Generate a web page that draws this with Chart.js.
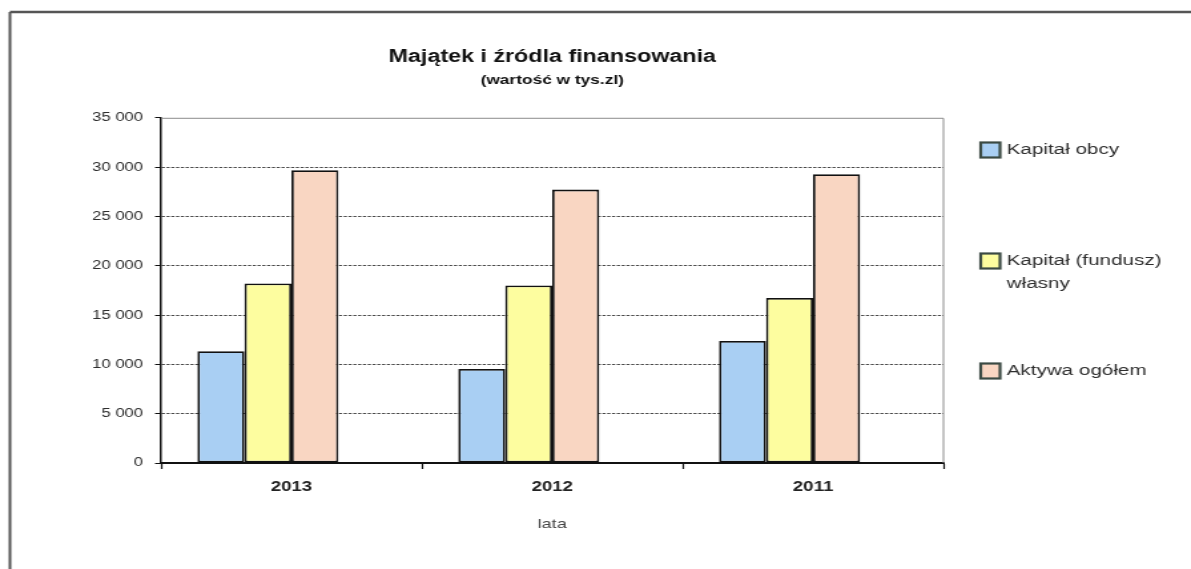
<!DOCTYPE html>
<html><head><meta charset="utf-8">
<script src="https://cdn.jsdelivr.net/npm/chart.js@4/dist/chart.umd.min.js"></script>
<style>
html,body{margin:0;padding:0;background:#fff;overflow:hidden;}
#wrap{position:absolute;left:0;top:0;width:895px;height:569px;transform:scaleX(1.3307);transform-origin:0 0;}
</style></head><body>
<div id="wrap"><canvas id="c"></canvas></div>
<script>
const categories = ['2013', '2012', '2011'];
const kapitalObcy = [11330, 9540, 12380];
const kapitalWlasny = [18210, 18000, 16730];
const aktywaOgolem = [29680, 27720, 29270];
const seriesLabels = ['Kapitał obcy', 'Kapitał (fundusz) własny', 'Aktywa ogółem'];
const legendLines = [['Kapitał obcy'], ['Kapitał (fundusz)', 'własny'], ['Aktywa ogółem']];
const yMin = 0, yMax = 35000, yStep = 5000;
const titleText = 'Majątek i źródla finansowania';
const subtitleText = '(wartość w tys.zl)';
const xAxisTitle = 'lata';

const FONT = "'Liberation Sans', Arial, sans-serif";
const colors = ['#a9cff3', '#fdfd9f', '#f9d6c2'];

function fmt(v) { return String(v).replace(/\B(?=(\d{3})+(?!\d))/g, ' '); }

const framePlugin = {
  id: 'frame',
  beforeDraw(chart) {
    const ctx = chart.ctx;
    ctx.save();
    ctx.fillStyle = '#fff';
    ctx.fillRect(0, 0, chart.width, chart.height);
    ctx.strokeStyle = '#555';
    ctx.lineWidth = 2.5;
    ctx.beginPath(); ctx.moveTo(7.5, 12); ctx.lineTo(chart.width, 12); ctx.stroke();
    ctx.lineWidth = 2;
    ctx.beginPath(); ctx.moveTo(7.5, 12); ctx.lineTo(7.5, chart.height); ctx.stroke();
    ctx.restore();
  },
  beforeDatasetsDraw(chart) {
    const a = chart.chartArea, ctx = chart.ctx;
    ctx.save();
    ctx.strokeStyle = '#8c8c8c';
    ctx.lineWidth = 1;
    ctx.beginPath();
    ctx.moveTo(a.left, a.top + 0.5); ctx.lineTo(a.right, a.top + 0.5); ctx.lineTo(a.right, a.bottom);
    ctx.stroke();
    ctx.restore();
  }
};

const legendPlugin = {
  id: 'sideLegend',
  afterDraw(chart) {
    const ctx = chart.ctx;
    const ys = [150, 261, 371];
    ctx.save();
    ctx.font = '15.5px ' + FONT;
    ctx.textBaseline = 'middle';
    ctx.textAlign = 'left';
    legendLines.forEach((lines, i) => {
      const y = ys[i];
      ctx.fillStyle = colors[i];
      ctx.fillRect(737, y - 7.5, 14.5, 15);
      ctx.strokeStyle = '#3b4a43';
      ctx.lineWidth = 2.2;
      ctx.strokeRect(737, y - 7.5, 14.5, 15);
      ctx.fillStyle = '#2e2e2e';
      lines.forEach((t, j) => ctx.fillText(t, 756.5, y + j * 23));
    });
    ctx.restore();
  }
};

new Chart(document.getElementById('c'), {
  type: 'bar',
  data: {
    labels: categories,
    datasets: [
      { label: seriesLabels[0], data: kapitalObcy, backgroundColor: colors[0] },
      { label: seriesLabels[1], data: kapitalWlasny, backgroundColor: colors[1] },
      { label: seriesLabels[2], data: aktywaOgolem, backgroundColor: colors[2] },
      { label: '', data: [null, null, null], backgroundColor: 'rgba(0,0,0,0)' }
    ].map(d => Object.assign(d, { borderColor: '#111', borderWidth: 1.8, borderSkipped: false,
                                  categoryPercentage: 0.721, barPercentage: 1.0 }))
  },
  options: {
    responsive: true,
    maintainAspectRatio: false,
    animation: false,
    events: [],
    layout: { padding: { left: 20, right: 186, top: 0, bottom: 0 } },
    plugins: {
      legend: { display: false },
      tooltip: { enabled: false },
      title: { display: true, text: titleText, fullSize: false, color: '#111',
               font: { family: FONT, size: 17.5, weight: 'bold', lineHeight: 1.2 },
               padding: { top: 46.5, bottom: 0 } },
      subtitle: { display: true, text: subtitleText, fullSize: false, color: '#111',
                  font: { family: FONT, size: 13, weight: 'bold', lineHeight: 1.2 },
                  padding: { top: 5, bottom: 29.7 } }
    },
    scales: {
      x: {
        offset: true,
        grid: { offset: true, drawOnChartArea: false, drawTicks: true, tickLength: 6, tickColor: '#111', tickWidth: 1.2 },
        border: { display: true, color: '#111', width: 2 },
        ticks: { color: '#222', padding: 10, font: { family: FONT, size: 14, weight: 'bold' } },
        title: { display: true, text: xAxisTitle, color: '#444', font: { family: FONT, size: 13.5 }, padding: { top: 8, bottom: 37 } },
        afterFit(s) { s.height = 106; }
      },
      y: {
        min: yMin, max: yMax,
        grid: {
          color: c => (c.tick && (c.tick.value === yMin || c.tick.value === yMax)) ? 'rgba(0,0,0,0)' : '#4a4a4a',
          lineWidth: 1,
          drawTicks: true, tickLength: 4.5, tickColor: '#111', tickWidth: 1, tickBorderDash: []
        },
        border: { display: true, color: '#111', width: 1.5, dash: [2.4, 1.2] },
        ticks: { stepSize: yStep, color: '#2e2e2e', padding: 9, font: { family: FONT, size: 12.5 }, callback: v => fmt(v) },
        afterFit(s) { s.width = 101; }
      }
    }
  },
  plugins: [framePlugin, legendPlugin]
});
</script>
</body></html>
